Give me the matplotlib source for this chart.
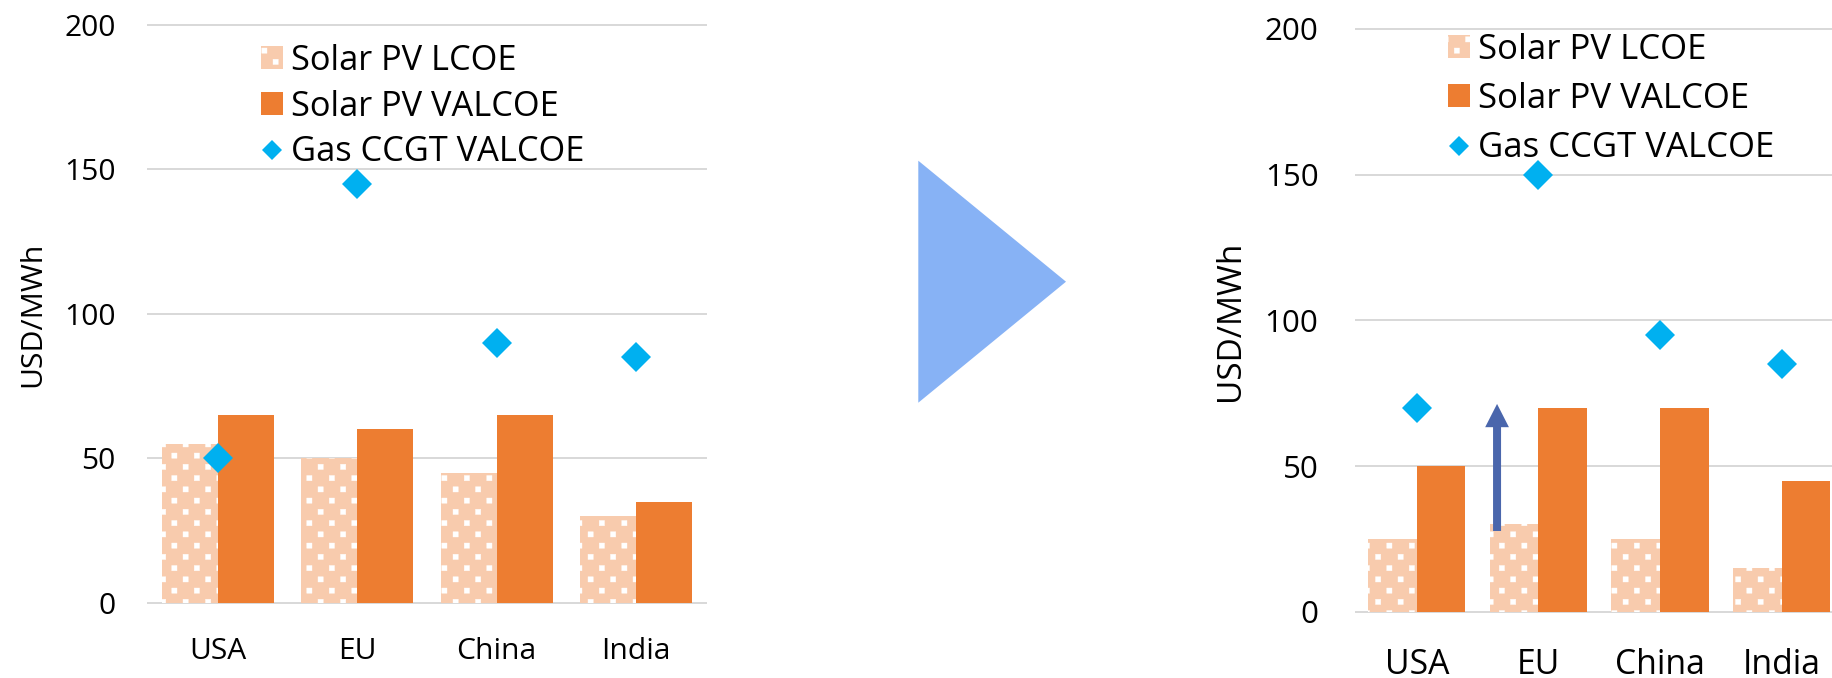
import numpy as np
import matplotlib
matplotlib.use("Agg")
import matplotlib.pyplot as plt
from matplotlib import hatch as mhatch
from matplotlib.path import Path
from matplotlib.patches import Polygon

regions = ["USA", "EU", "China", "India"]

# current costs (left panel), USD/MWh
lcoe_now = [55, 50, 45, 30]
valcoe_now = [65, 60, 65, 35]
gas_now = [50, 145, 90, 85]

# later costs (right panel), USD/MWh
lcoe_later = [25, 30, 25, 15]
valcoe_later = [50, 70, 70, 45]
gas_later = [70, 150, 95, 85]

y_ticks = [0, 50, 100, 150, 200]

PEACH = "#F8CBAD"
ORANGE = "#ED7D31"
CYAN = "#00B0F0"
GRID = "#D9D9D9"
ARROW = "#4A66AC"
TRIANGLE = "#87B2F5"


class SquareDots(mhatch.HatchPatternBase):
    """'.' hatch drawn as staggered small squares instead of round dots."""
    cols, rows, half = 4, 8, 0.029

    def __init__(self, hatch, density):
        self.num_vertices = 5 * self.cols * self.rows if "." in hatch else 0

    def set_vertices_and_codes(self, vertices, codes):
        square = np.array([[-1, -1], [1, -1], [1, 1], [-1, 1], [-1, -1]]) * self.half
        parts = []
        for r in range(self.rows):
            y = (r + 0.5) / self.rows
            shift = 0.25 if r % 2 == 0 else 0.75
            for c in range(self.cols):
                parts.append(square + [(c + shift) / self.cols, y])
        vertices[:] = np.concatenate(parts)
        one = [Path.MOVETO, Path.LINETO, Path.LINETO, Path.LINETO, Path.CLOSEPOLY]
        codes[:] = np.tile(one, self.cols * self.rows)


mhatch._hatch_types = [SquareDots if h is mhatch.SmallFilledCircles else h
                       for h in mhatch._hatch_types]

plt.rcParams["font.family"] = ["Open Sans", "DejaVu Sans"]
plt.rcParams["hatch.linewidth"] = 0.3

W, H, DPI = 1832, 678, 90
fig = plt.figure(figsize=(W / DPI, H / DPI), dpi=DPI)


def px_rect(x0, x1, y_top, y_bottom):
    return [x0 / W, (H - y_bottom) / H, (x1 - x0) / W, (y_bottom - y_top) / H]


def draw_panel(ax, lcoe, valcoe, gas, ytick_pt, xtick_pt, ypad, xpad, leg_xy, leg_pt, leg_space):
    x = np.arange(len(regions))
    b1 = ax.bar(x - 0.2, lcoe, 0.4, color=PEACH, edgecolor="white", linewidth=0,
                hatch=".", label="Solar PV LCOE", zorder=2)
    b2 = ax.bar(x + 0.2, valcoe, 0.4, color=ORANGE, linewidth=0,
                label="Solar PV VALCOE", zorder=2)
    pts, = ax.plot(x, gas, ls="none", marker="D", ms=17.5, mew=0, color=CYAN,
                   label="Gas CCGT VALCOE", zorder=3)

    ax.set_xlim(-0.5, 3.5)
    ax.set_ylim(0, 200)
    ax.set_yticks(y_ticks)
    ax.set_xticks(x, regions)
    ax.grid(axis="y", color=GRID, lw=1.6)
    ax.set_axisbelow(True)
    for line in ax.get_ygridlines():
        line.set_clip_on(False)
    for s in ax.spines.values():
        s.set_visible(False)
    ax.tick_params(axis="y", length=0, pad=ypad, labelsize=ytick_pt)
    ax.tick_params(axis="x", length=0, pad=xpad, labelsize=xtick_pt)

    em = leg_pt * DPI / 72
    ax.legend(handles=[b1, b2, pts], loc="upper left",
              bbox_to_anchor=(leg_xy[0] / W, (H - leg_xy[1]) / H),
              bbox_transform=fig.transFigure, frameon=False, fontsize=leg_pt,
              borderpad=0, borderaxespad=0, handlelength=22 / em,
              handleheight=22 / em, handletextpad=8.3 / em,
              labelspacing=leg_space, markerscale=0.65)


ax1 = fig.add_axes(px_rect(148, 706, 24.7, 602.7))
draw_panel(ax1, lcoe_now, valcoe_now, gas_now, 24, 24, 26, 27.8,
           (261, 43.7), 27.5, 0.346)

ax2 = fig.add_axes(px_rect(1356, 1842.4, 28.9, 611.7))
draw_panel(ax2, lcoe_later, valcoe_later, gas_later, 25, 27, 30, 28.7,
           (1447.7, 32.8), 27.8, 0.44)

# arrow lifting EU from its LCOE towards its VALCOE
eu = regions.index("EU")
ax2.annotate("", xy=(eu - 0.34, valcoe_later[eu] + 1.3),
             xytext=(eu - 0.34, lcoe_later[eu] - 2.3),
             arrowprops=dict(arrowstyle="simple,head_length=18.6,head_width=19,tail_width=6.4",
                             mutation_scale=1, color=ARROW, lw=0,
                             shrinkA=0, shrinkB=0), zorder=4)

fig.text(32.7 / W, (H - 314) / H, "USD/MWh", rotation=90, ha="center", va="center",
         fontsize=24.2)
fig.text(1230 / W, (H - 321) / H, "USD/MWh", rotation=90, ha="center", va="center",
         fontsize=26.7)

# big "then" triangle between the panels
fig.patches.append(Polygon([[918.3 / W, (H - 160.7) / H], [1066 / W, (H - 281.7) / H],
                            [918.3 / W, (H - 402.7) / H]], closed=True,
                           transform=fig.transFigure, facecolor=TRIANGLE,
                           edgecolor="none"))

fig.savefig("out.png", dpi=DPI)
